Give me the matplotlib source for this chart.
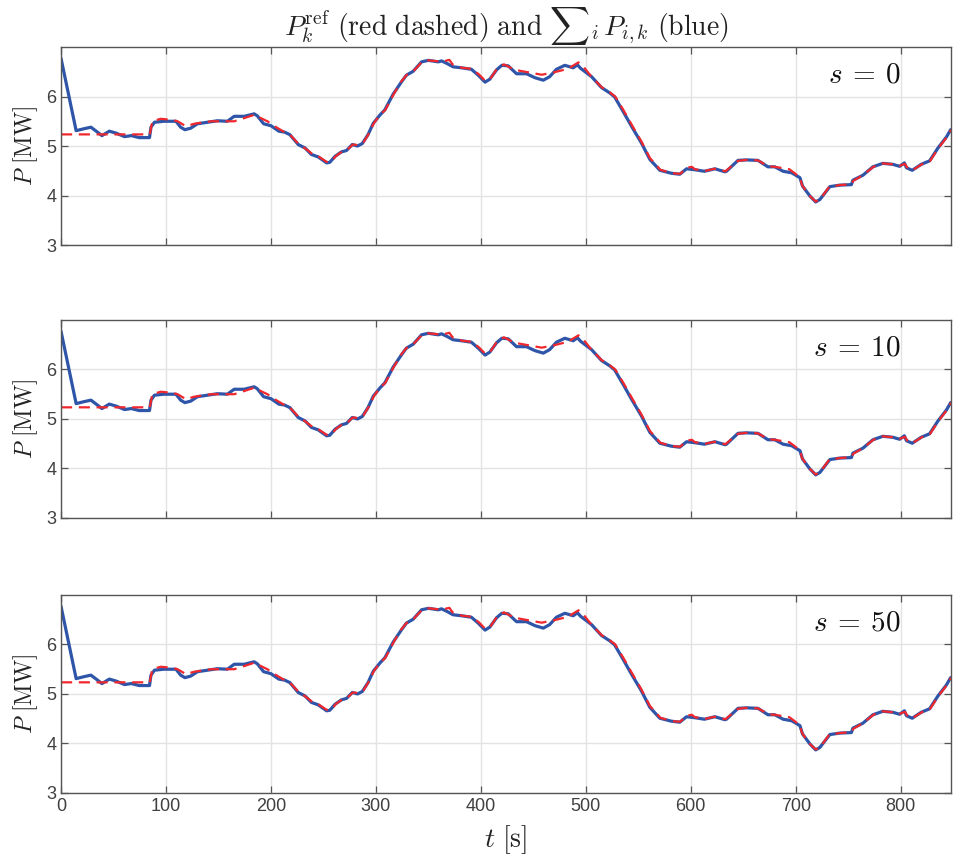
import numpy as np
import matplotlib
matplotlib.use("Agg")
import matplotlib.pyplot as plt

plt.rcParams["mathtext.fontset"] = "cm"
plt.rcParams["font.family"] = ["Liberation Sans Narrow", "Liberation Sans", "DejaVu Sans"]

# Aggregated power sum_i P_{i,k} (time [s], power [MW])
t_sum = [0, 14.4, 22, 28.5, 33.5, 39, 46, 52.5, 60.5, 67, 74.5, 84.3, 85.7, 89, 98,
         109.5, 114, 118, 123.5, 130, 139.5, 149, 158.5, 165, 174.5, 184, 187, 193,
         200, 207.5, 213, 218, 226, 232.5, 238.5, 245, 253, 256, 261, 267, 272,
         277.5, 282.5, 287, 292.5, 297.5, 304, 308.5, 316.5, 324.5, 329, 335.5,
         343.5, 350, 359.5, 362.5, 367.5, 373.5, 381.5, 391, 397.5, 404, 408.5,
         415, 420, 426, 434, 443.5, 451.5, 459.5, 465.5, 472, 480, 488, 492, 495,
         505.5, 515, 523, 527.5, 535.5, 543.5, 553, 561, 570.5, 581.5, 589.5, 596,
         604, 613, 623, 632.5, 634, 645, 653, 664, 673.5, 680, 688, 696, 704,
         706.5, 713.5, 719, 723, 732.5, 742, 753, 754.5, 764, 773.5, 783, 792.5,
         799, 803.5, 805.5, 811, 819.5, 827.5, 835.5, 843.5, 847.6]
p_sum = [6.77, 5.31, 5.35, 5.38, 5.30, 5.21, 5.30, 5.26, 5.19, 5.21, 5.17, 5.17, 5.38,
         5.48, 5.50, 5.50, 5.38, 5.33, 5.36, 5.45, 5.48, 5.51, 5.50, 5.60, 5.60,
         5.65, 5.61, 5.45, 5.41, 5.30, 5.28, 5.23, 5.03, 4.96, 4.83, 4.78, 4.66,
         4.67, 4.79, 4.88, 4.91, 5.03, 5.00, 5.05, 5.23, 5.46, 5.63, 5.73, 6.05,
         6.30, 6.43, 6.51, 6.70, 6.73, 6.70, 6.72, 6.67, 6.60, 6.58, 6.55, 6.43,
         6.29, 6.35, 6.54, 6.63, 6.62, 6.46, 6.46, 6.38, 6.33, 6.40, 6.55, 6.63,
         6.58, 6.64, 6.57, 6.40, 6.18, 6.07, 5.99, 5.70, 5.40, 5.06, 4.73, 4.51,
         4.45, 4.43, 4.54, 4.52, 4.49, 4.54, 4.48, 4.49, 4.71, 4.72, 4.71, 4.58,
         4.58, 4.49, 4.46, 4.36, 4.19, 3.99, 3.87, 3.92, 4.18, 4.21, 4.22, 4.31,
         4.41, 4.58, 4.65, 4.63, 4.59, 4.66, 4.56, 4.51, 4.63, 4.70, 4.96, 5.18,
         5.33]

# Reference power P_k^ref
t_ref = [0, 84.5, 87, 95, 105, 111, 119, 127, 143, 165, 174, 184, 196.6, 205, 213,
         218, 226, 234, 240, 246, 253, 258, 262, 268, 273, 278, 283, 288, 293, 298,
         304, 309, 317, 324, 329, 336, 344, 350, 360, 366, 370, 373, 382, 391, 398,
         404, 409, 415, 422, 432, 445, 458, 470, 483, 493, 499, 505, 515, 523, 528,
         536, 544, 553, 561, 571, 582, 590, 596, 601, 604, 614, 623, 633, 645, 653,
         664, 674, 680, 694, 704, 706, 713, 719, 723, 732, 742, 753, 755, 764, 774,
         783, 793, 799, 804, 806, 811, 820, 828, 836, 844, 848]
p_ref = [5.235, 5.235, 5.50, 5.55, 5.53, 5.50, 5.40, 5.45, 5.50, 5.50, 5.56, 5.63,
         5.50, 5.38, 5.28, 5.23, 5.05, 4.93, 4.83, 4.78, 4.68, 4.70, 4.80, 4.89,
         4.93, 5.03, 5.02, 5.07, 5.24, 5.46, 5.63, 5.73, 6.05, 6.30, 6.43, 6.52,
         6.70, 6.73, 6.71, 6.72, 6.74, 6.65, 6.58, 6.56, 6.45, 6.32, 6.36, 6.55,
         6.65, 6.54, 6.49, 6.44, 6.49, 6.56, 6.69, 6.57, 6.41, 6.19, 6.08, 6.00,
         5.72, 5.42, 5.09, 4.76, 4.52, 4.45, 4.44, 4.56, 4.58, 4.53, 4.50, 4.54,
         4.49, 4.70, 4.72, 4.71, 4.59, 4.58, 4.53, 4.37, 4.21, 4.00, 3.88, 3.92,
         4.18, 4.21, 4.23, 4.30, 4.41, 4.58, 4.65, 4.63, 4.60, 4.64, 4.57, 4.51,
         4.63, 4.70, 4.96, 5.18, 5.33]

s_values = [0, 10, 50]
x_ticks = [0, 100, 200, 300, 400, 500, 600, 700, 800]
y_ticks = [3, 4, 5, 6]

BLUE = "#2E55A8"
RED = "#F0282D"
AXCOL = "#555555"
TXTCOL = "#404040"

fig = plt.figure(figsize=(9.55, 8.61), dpi=100)
left, width = 0.0639, 0.932
bottoms = [0.7154, 0.3984, 0.0790]
height = 0.230

for i, (s, b) in enumerate(zip(s_values, bottoms)):
    ax = fig.add_axes([left, b, width, height])
    ax.plot(t_sum, p_sum, color=BLUE, lw=2.3, solid_joinstyle="round",
            solid_capstyle="round")
    ax.plot(t_ref, p_ref, color=RED, lw=1.6, ls=(0, (5, 3)))
    ax.set_xlim(0, 848)
    ax.set_ylim(3, 7)
    ax.set_xticks(x_ticks)
    ax.set_yticks(y_ticks)
    ax.grid(True, color="#e3e3e3", lw=1.0)
    ax.set_axisbelow(True)
    ax.tick_params(direction="in", length=5, width=0.9, color=AXCOL,
                   top=True, right=True, labelsize=13, labelcolor=TXTCOL)
    for sp in ax.spines.values():
        sp.set_color(AXCOL)
        sp.set_linewidth(1.0)
    if i < 2:
        ax.set_xticklabels([])
    else:
        ax.set_xlabel(r"$t\ [\mathrm{s}]$", fontsize=20, color="#222222", labelpad=6)
    ax.set_ylabel(r"$P\ [\mathrm{MW}]$", fontsize=17, color="#222222", labelpad=4)
    ax.text(0.944, 0.86, r"$s\:=\:%d$" % s, transform=ax.transAxes, ha="right",
            va="center", fontsize=21, color="#111111")
    if i == 0:
        ax.set_title(r"$P_k^{\mathrm{ref}}\ \mathrm{(red\ dashed)\ and}\ "
                     r"{\sum}_i\, P_{i,k}\ \mathrm{(blue)}$",
                     fontsize=20, color="#222222", pad=7)

fig.savefig("out.png", dpi=100)
